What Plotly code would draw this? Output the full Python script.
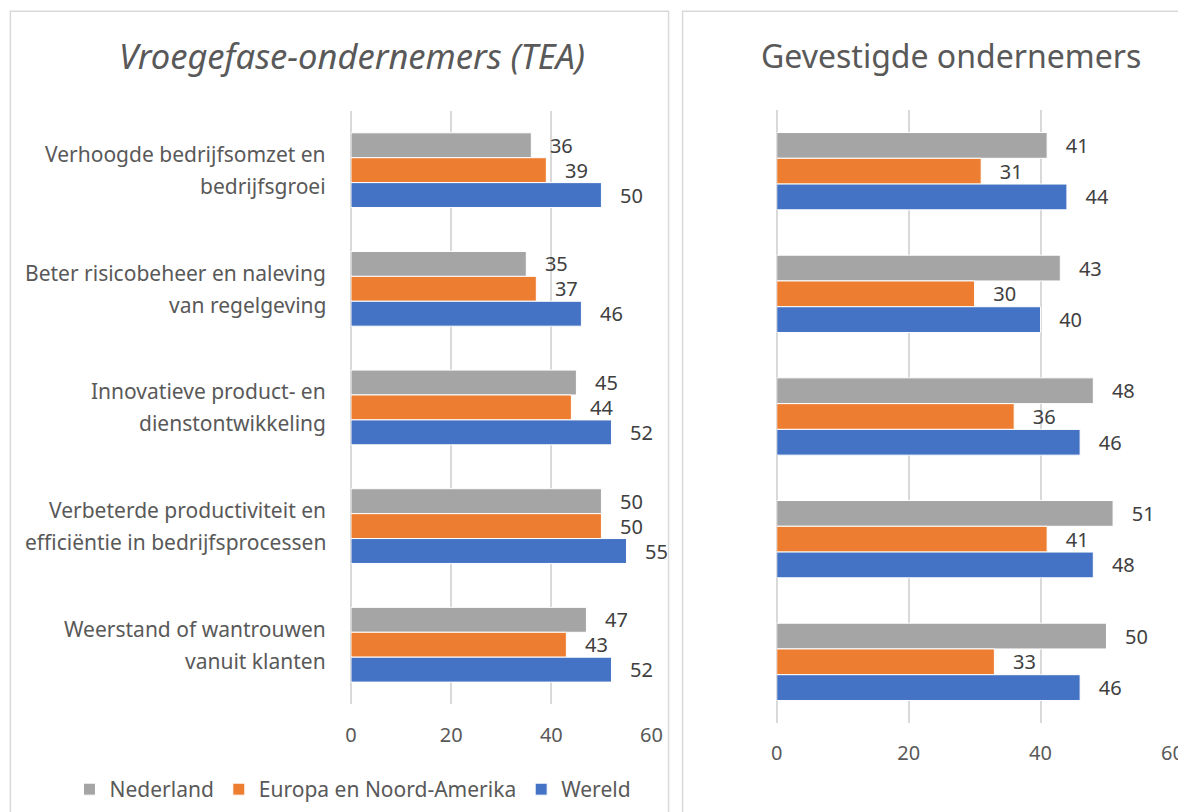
import plotly.graph_objects as go

# categories (top to bottom), two lines each
categories = [
    "Verhoogde bedrijfsomzet en<br>bedrijfsgroei",
    "Beter risicobeheer en naleving<br>van regelgeving",
    "Innovatieve product- en<br>dienstontwikkeling",
    "Verbeterde productiviteit en<br>efficiëntie in bedrijfsprocessen",
    "Weerstand of wantrouwen<br>vanuit klanten",
]
series_names = ["Nederland", "Europa en Noord-Amerika", "Wereld"]
colors = ["#A5A5A5", "#ED7D31", "#4472C4"]

# Vroegefase-ondernemers (TEA)
tea_nl = [36, 35, 45, 50, 47]
tea_eu = [39, 37, 44, 50, 43]
tea_world = [50, 46, 52, 55, 52]

# Gevestigde ondernemers
est_nl = [41, 43, 48, 51, 50]
est_eu = [31, 30, 36, 41, 33]
est_world = [44, 40, 46, 48, 46]

tick_vals = [0, 20, 40, 60]

# measured page offset/scale of the rendered figure
AX, SX = 13.6, 0.984
AY, SY = 9.7, 0.9946
W, H = 1192, 816
FONT = "Noto Sans"
GREY = "#595959"


def px_x(v):
    return (v - AX) / SX / W


def px_y(v):
    return 1 - (v - AY) / SY / H


fig = go.Figure()

panels = [("x", "y", [tea_nl, tea_eu, tea_world], True),
          ("x2", "y2", [est_nl, est_eu, est_world], False)]
for xa, ya, data, show in panels:
    for name, color, vals in zip(series_names, colors, data):
        fig.add_trace(go.Bar(
            y=categories, x=vals, orientation="h", name=name, showlegend=show,
            marker=dict(color=color, line=dict(color="white", width=1)),
            text=["\u00a0\u00a0\u00a0" + str(v) for v in vals],
            textposition="outside", constraintext="none", cliponaxis=False,
            textfont=dict(family=FONT, size=20, color="#404040"),
            xaxis=xa, yaxis=ya,
        ))

axis_common = dict(
    range=[0, 60], tickvals=tick_vals, showgrid=True, gridcolor="#D9D9D9", gridwidth=1.5,
    zeroline=True, zerolinecolor="#D9D9D9", zerolinewidth=1.5, showline=False,
    tickfont=dict(family=FONT, size=20, color=GREY), ticks="", fixedrange=True,
)

fig.update_layout(
    width=W, height=H,
    margin=dict(l=0, r=0, t=0, b=0),
    paper_bgcolor="white", plot_bgcolor="white",
    barmode="group", bargap=0.37, bargroupgap=0,
    font=dict(family=FONT, color=GREY),
    xaxis=dict(domain=[px_x(350), px_x(650)], anchor="y", ticklabelstandoff=17, **axis_common),
    yaxis=dict(domain=[px_y(702), px_y(112)], anchor="x", autorange="reversed",
               showticklabels=False, showgrid=False),
    xaxis2=dict(domain=[px_x(775), px_x(1170)], anchor="y2", ticklabelstandoff=16, **axis_common),
    yaxis2=dict(domain=[px_y(721), px_y(111)], anchor="x2", autorange="reversed",
                showticklabels=False, showgrid=False),
    legend=dict(orientation="h", x=px_x(352), xanchor="center", y=px_y(787), yanchor="middle",
                font=dict(family=FONT, size=21, color=GREY), itemwidth=30,
                bgcolor="rgba(0,0,0,0)"),
    showlegend=True,
)

# category labels: each line right-aligned next to the axis
for cat in categories:
    lines = cat.split("<br>")
    for line, shift in zip(lines, [16, -16]):
        fig.add_annotation(x=px_x(327), xref="paper", y=cat, yref="y", text=line,
                           showarrow=False, xanchor="right",
                           yshift=shift, font=dict(family=FONT, size=21, color=GREY))

# panel titles
fig.add_annotation(x=px_x(351), y=px_y(57), xref="paper", yref="paper", xanchor="center",
                   yanchor="middle", text="<i>Vroegefase-ondernemers (TEA)</i>", showarrow=False,
                   font=dict(family=FONT, size=34.5, color=GREY))
fig.add_annotation(x=px_x(949), y=px_y(57), xref="paper", yref="paper", xanchor="center",
                   yanchor="middle", text="Gevestigde ondernemers", showarrow=False,
                   font=dict(family=FONT, size=32, color=GREY))

# panel borders
fig.add_shape(type="rect", xref="paper", yref="paper",
              x0=px_x(10), x1=px_x(667), y0=-0.05, y1=px_y(13),
              line=dict(color="#D9D9D9", width=1.5))
fig.add_shape(type="rect", xref="paper", yref="paper",
              x0=px_x(681), x1=1.05, y0=-0.05, y1=px_y(13),
              line=dict(color="#D9D9D9", width=1.5))

fig.write_html("out.html")
